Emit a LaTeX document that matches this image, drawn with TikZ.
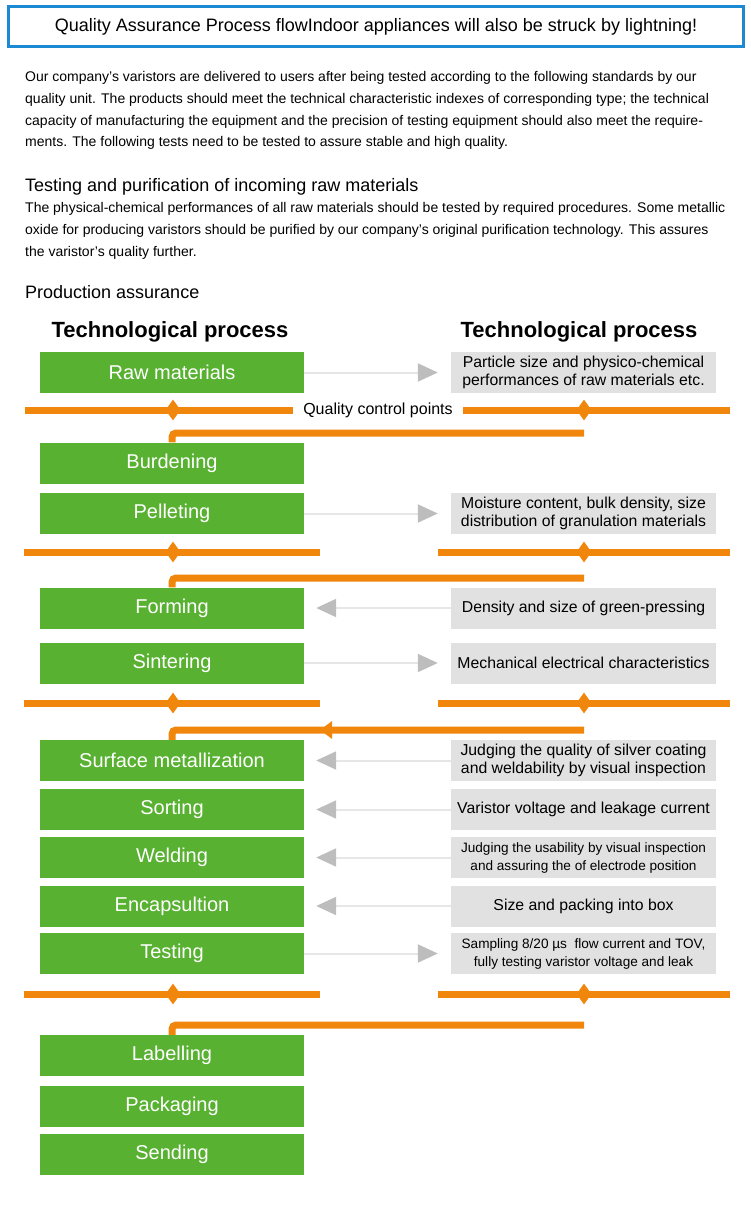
\documentclass[tikz,border=0pt]{standalone}
\usepackage{fontspec}
\setmainfont{Liberation Sans}
\usetikzlibrary{arrows.meta,shapes.geometric,decorations.markings}
\definecolor{titleblue}{HTML}{1C8AD2}
\definecolor{stepgreen}{HTML}{58B131}
\definecolor{qcorange}{HTML}{F0860C}
\definecolor{checkgray}{HTML}{E1E1E1}
\definecolor{tipgray}{HTML}{BDBDBD}
\definecolor{linegray}{HTML}{E6E6E6}
\newcommand{\fs}[2]{\fontsize{#1}{#2}\selectfont}

\begin{document}
\begin{tikzpicture}[x=1pt,y=-1pt,
  stepbox/.style={fill=stepgreen,text=white,minimum width=264pt,minimum height=41pt,inner sep=0pt,font=\fs{20}{22}},
  checkbox/.style={fill=checkgray,minimum width=265pt,minimum height=41pt,inner sep=0pt,align=center,font=\fs{15.8}{17.5}},
  toright/.style={draw=linegray,line width=2pt,-{Triangle[length=20pt,width=18pt,color=tipgray]},shorten >=13pt},
  toleft/.style={draw=linegray,line width=2pt,-{Triangle[length=20pt,width=18pt,color=tipgray]},shorten >=12pt},
  qcline/.style={draw=qcorange,line width=7pt},
  qcmark/.style={diamond,fill=qcorange,minimum width=15pt,minimum height=21pt,inner sep=0pt},
  body/.style={anchor=base west,inner sep=0pt,align=left,font=\fs{14}{21.7}},
  head/.style={inner sep=0pt,font=\bfseries\fs{22}{24}}]
\useasboundingbox (0,0) rectangle (750,1207);
\draw[titleblue,line width=3pt] (8,7) rectangle (743,47);
\node[font=\fs{18}{20}] (title) at (376,26.5) {Quality Assurance Process flowIndoor appliances will also be struck by lightning!};
% last line sits on the given baseline
\node[body] (intro) at (25,146.8) {Our company’s varistors are delivered to users after being tested according to the following standards by our\\
quality unit. The products should meet the technical characteristic indexes of corresponding type; the technical\\
capacity of manufacturing the equipment and the precision of testing equipment should also meet the require-\\
ments. The following tests need to be tested to assure stable and high quality.};
\node[body,font=\fs{18}{20}] (rawhead) at (25,191) {Testing and purification of incoming raw materials};
\node[body,font=\fs{14}{22}] (rawtext) at (25,256.7) {The physical-chemical performances of all raw materials should be tested by required procedures. Some metallic\\
oxide for producing varistors should be purified by our company’s original purification technology. This assures\\
the varistor’s quality further.};
\node[body,font=\fs{18}{20}] (prodhead) at (25,298.5) {Production assurance};
\node[head] (lefthead) at (170,332) {Technological process};
\node[head] (righthead) at (579,332) {Technological process};
% process steps
\node[stepbox] (raw) at (172,372.5) {Raw materials};
\node[stepbox] (burden) at (172,463) {Burdening};
\node[stepbox] (pellet) at (172,513.5) {Pelleting};
\node[stepbox] (form) at (172,608) {Forming};
\node[stepbox] (sinter) at (172,663) {Sintering};
\node[stepbox] (surf) at (172,760.5) {Surface metallization};
\node[stepbox] (sort) at (172,809.5) {Sorting};
\node[stepbox] (weld) at (172,857.5) {Welding};
\node[stepbox] (encap) at (172,906) {Encapsultion};
\node[stepbox] (test) at (172,953.5) {Testing};
\node[stepbox] (label) at (172,1055.5) {Labelling};
\node[stepbox] (pack) at (172,1106.5) {Packaging};
\node[stepbox] (send) at (172,1154) {Sending};
% checks
\node[checkbox] (rawchk) at (583.5,372.5) {Particle size and physico-chemical\\performances of raw materials etc.};
\node[checkbox] (pelletchk) at (583.5,513.5) {Moisture content, bulk density, size\\distribution of granulation materials};
\node[checkbox] (formchk) at (583.5,608) {Density and size of green-pressing};
\node[checkbox] (sinterchk) at (583.5,663) {Mechanical electrical characteristics};
\node[checkbox,font=\fs{15.8}{18}] (surfchk) at (583.5,760.5) {Judging the quality of silver coating\\and weldability by visual inspection};
\node[checkbox] (sortchk) at (583.5,809.5) {Varistor voltage and leakage current};
\node[checkbox,font=\fs{13.6}{18}] (weldchk) at (583.5,857.5) {Judging the usability by visual inspection\\and assuring the of electrode position};
\node[checkbox] (encapchk) at (583.5,906) {Size and packing into box};
\node[checkbox,font=\fs{13.6}{18}] (testchk) at (583.5,953.5) {Sampling 8/20 µs\ \ flow current and TOV,\\fully testing varistor voltage and leak};
\draw[toright] (raw) -- (rawchk);
\draw[toright] (pellet) -- (pelletchk);
\draw[toleft] (formchk) -- (form);
\draw[toright] (sinter) -- (sinterchk);
\draw[toleft] (surfchk) -- (surf);
\draw[toleft] (sortchk) -- (sort);
\draw[toleft] (weldchk) -- (weld);
\draw[toleft] (encapchk) -- (encap);
\draw[toright] (test) -- (testchk);
% quality control points
\node[font=\fs{16}{18},inner xsep=10pt] (qcp) at (378,410) {Quality control points};
\draw[qcline] (25,410) -- (qcp.west);
\draw[qcline] (qcp.east) -- (730,410);
\foreach \y in {552,703,994} {
  \draw[qcline] (24,\y) -- (320,\y);
  \draw[qcline] (438,\y) -- (730,\y);
}
\foreach \y/\n in {410/a,552/b,703/c,994/d} {
  \node[qcmark] (ql\n) at (173,\y) {};
  \node[qcmark] (qr\n) at (584,\y) {};
}
\draw[qcline,rounded corners=4pt] (584,433) -| (burden.north);
\draw[qcline,rounded corners=4pt] (584,578) -| (form.north);
\draw[qcline,rounded corners=4pt,postaction={decorate,decoration={markings,mark=at position 264pt with {\arrow{Triangle[length=12pt,width=17pt]}}}}] (584,730) -| (surf.north);
\draw[qcline,rounded corners=4pt] (584,1025) -| (label.north);
\end{tikzpicture}
\end{document}
